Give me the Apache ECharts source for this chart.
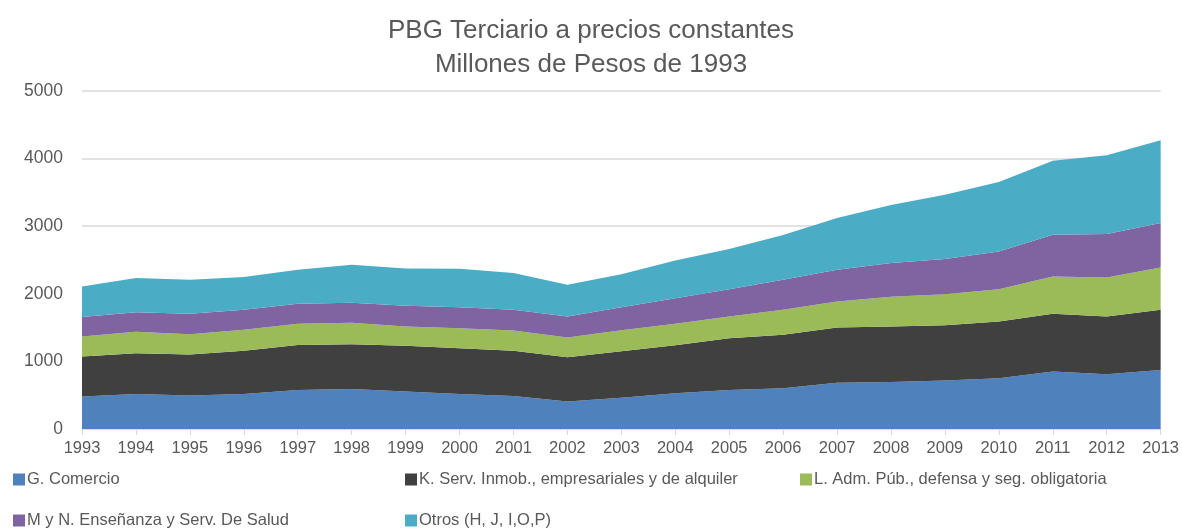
<!DOCTYPE html>
<html>
<head>
<meta charset="utf-8">
<script src="https://cdn.jsdelivr.net/npm/echarts@6/dist/echarts.min.js"></script>
<style>
  html, body { margin: 0; padding: 0; background: #fff; }
  #main { width: 1182px; height: 529px; }
</style>
</head>
<body>
<div id="main"></div>
<script>
var years = ['1993', '1994', '1995', '1996', '1997', '1998', '1999', '2000', '2001', '2002', '2003',
    '2004', '2005', '2006', '2007', '2008', '2009', '2010', '2011', '2012', '2013'];

var comercio = [479, 519, 494, 519, 578, 590, 553, 519, 489, 405, 462, 528, 578, 602, 686, 696, 716, 751, 849, 810, 874];
var inmob = [592, 602, 607, 637, 666, 664, 677, 676, 667, 657, 688, 712, 765, 791, 815, 820, 820, 839, 855, 854, 889];
var admPub = [297, 316, 301, 311, 312, 316, 286, 296, 301, 291, 310, 316, 321, 370, 385, 440, 459, 479, 553, 578, 627];
var salud = [287, 291, 302, 296, 296, 297, 306, 311, 306, 311, 340, 380, 405, 444, 470, 499, 519, 558, 617, 642, 657];
var otros = [453, 504, 503, 484, 504, 563, 553, 568, 543, 469, 490, 558, 593, 663, 765, 859, 953, 1027, 1096, 1165, 1224];

var names = [
    'G. Comercio',
    'K. Serv. Inmob., empresariales y de alquiler',
    'L. Adm. Púb., defensa y seg. obligatoria',
    'M y N. Enseñanza y Serv. De Salud',
    'Otros (H, J, I,O,P)'
];
var colors = ['#4F81BD', '#404040', '#9BBB59', '#8064A2', '#4BACC6'];
var values = [comercio, inmob, admPub, salud, otros];

var legendPos = [[8, 466], [400, 466], [795, 466], [8, 507], [400, 507]];

var myChart = echarts.init(document.getElementById('main'));

var series = [];
var legends = [];
for (var i = 0; i < names.length; i++) {
    series.push({
        name: names[i],
        type: 'line',
        stack: 'total',
        data: values[i],
        symbol: 'none',
        lineStyle: { width: 0 },
        areaStyle: { color: colors[i], opacity: 1 },
        itemStyle: { color: colors[i] }
    });
    legends.push({
        data: [names[i]],
        left: legendPos[i][0],
        top: legendPos[i][1],
        itemWidth: 12,
        itemHeight: 12,
        icon: 'rect',
        textStyle: { color: '#595959', fontSize: 16.5, fontFamily: 'Liberation Sans', padding: [0, 0, 0, -3] }
    });
}

var option = {
    animation: false,
    color: colors,
    title: {
        text: 'PBG Terciario a precios constantes\nMillones de Pesos de 1993',
        left: 'center',
        top: 9,
        textStyle: {
            color: '#595959',
            fontSize: 26,
            fontWeight: 'normal',
            lineHeight: 34,
            fontFamily: 'Liberation Sans'
        }
    },
    legend: legends,
    grid: { left: 82, right: 21, top: 91, bottom: 100 },
    xAxis: {
        type: 'category',
        data: years,
        boundaryGap: false,
        axisLine: { lineStyle: { color: '#d9d9d9', width: 1.5 } },
        axisTick: { show: true, length: 6, lineStyle: { color: '#d9d9d9' } },
        axisLabel: { color: '#595959', fontSize: 16.5, fontFamily: 'Liberation Sans', margin: 11 }
    },
    yAxis: {
        type: 'value',
        min: 0,
        max: 5000,
        interval: 1000,
        axisLine: { show: false },
        axisTick: { show: false },
        splitLine: { lineStyle: { color: '#d9d9d9', width: 1.5 } },
        axisLabel: {
            color: '#595959', fontSize: 17.5, fontFamily: 'Liberation Sans', margin: 19,
            formatter: function (v) { return String(v); }
        }
    },
    series: series
};

myChart.setOption(option);
</script>
</body>
</html>
